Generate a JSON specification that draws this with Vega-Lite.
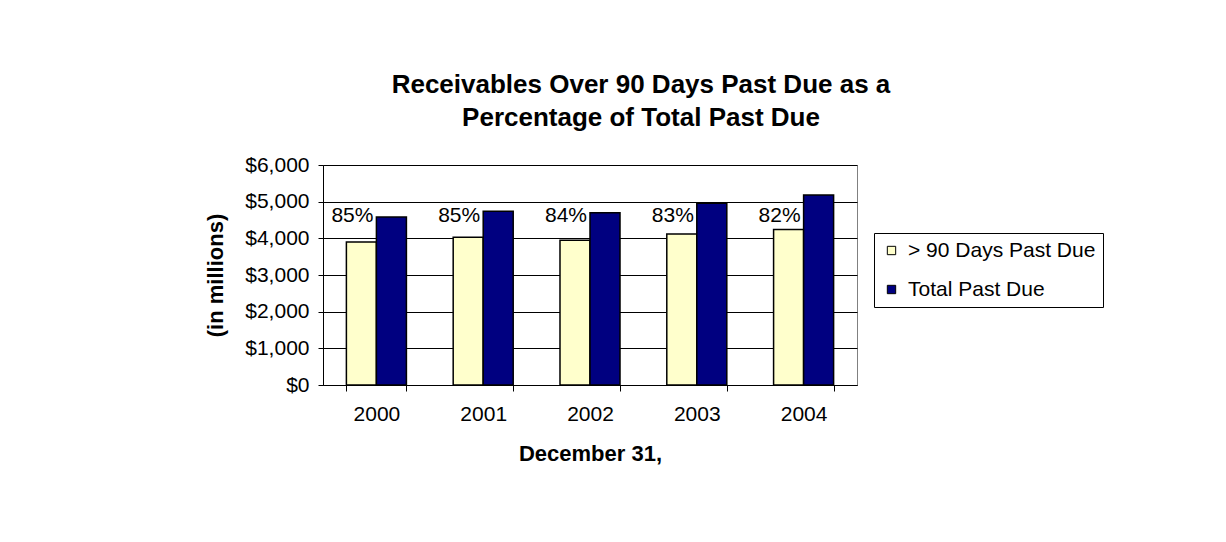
{
  "$schema": "https://vega.github.io/schema/vega-lite/v6.json",
  "width": 534,
  "height": 220,
  "padding": {"left": 204, "top": 72, "right": 10, "bottom": 10},
  "background": "white",
  "config": {
    "font": "Liberation Sans",
    "view": {"stroke": "#808080", "strokeWidth": 1},
    "axisY": {
      "title": "(in millions)",
      "titleFontSize": 22,
      "titleFontWeight": "bold",
      "titleColor": "black",
      "titlePadding": 17,
      "labelFontSize": 21,
      "labelColor": "black",
      "labelPadding": 9,
      "labelOverlap": false,
      "tickSize": 5,
      "tickColor": "black",
      "domainColor": "black",
      "grid": true,
      "gridColor": "black",
      "gridWidth": 1
    }
  },
  "title": {
    "text": ["Receivables Over 90 Days Past Due as a", "Percentage of Total Past Due"],
    "font": "Liberation Sans",
    "fontSize": 26,
    "fontWeight": "bold",
    "lineHeight": 33,
    "color": "black",
    "anchor": "middle",
    "dx": 51,
    "offset": 23
  },
  "data": {
    "values": [
      {"year": "2000", "series": "> 90 Days Past Due", "amount": 3900, "pct": "85%"},
      {"year": "2000", "series": "Total Past Due", "amount": 4580},
      {"year": "2001", "series": "> 90 Days Past Due", "amount": 4030, "pct": "85%"},
      {"year": "2001", "series": "Total Past Due", "amount": 4740},
      {"year": "2002", "series": "> 90 Days Past Due", "amount": 3950, "pct": "84%"},
      {"year": "2002", "series": "Total Past Due", "amount": 4700},
      {"year": "2003", "series": "> 90 Days Past Due", "amount": 4120, "pct": "83%"},
      {"year": "2003", "series": "Total Past Due", "amount": 4960},
      {"year": "2004", "series": "> 90 Days Past Due", "amount": 4240, "pct": "82%"},
      {"year": "2004", "series": "Total Past Due", "amount": 5180}
    ]
  },
  "encoding": {
    "x": {
      "field": "year",
      "type": "nominal",
      "scale": {"paddingInner": 0.438, "paddingOuter": 0.219},
      "axis": {
        "title": "December 31,",
        "titleFontSize": 22,
        "titleFontWeight": "bold",
        "titleColor": "black",
        "titlePadding": 19,
        "labelFontSize": 21,
        "labelColor": "black",
        "labelPadding": 12,
        "labelAngle": 0,
        "tickBand": "extent",
        "tickSize": 6,
        "tickColor": "black",
        "domainColor": "black",
        "grid": false
      }
    },
    "xOffset": {
      "field": "series",
      "type": "nominal",
      "scale": {"domain": ["> 90 Days Past Due", "Total Past Due"], "paddingInner": 0, "paddingOuter": 0}
    }
  },
  "layer": [
    {
      "mark": {"type": "bar", "stroke": "black", "strokeWidth": 1.5},
      "encoding": {
        "y": {
          "field": "amount",
          "type": "quantitative",
          "scale": {"domain": [0, 6000], "nice": false},
          "axis": {
            "title": "(in millions)",
            "values": [0, 1000, 2000, 3000, 4000, 5000, 6000],
            "format": "$,d"
          }
        },
        "color": {
          "field": "series",
          "type": "nominal",
          "scale": {"domain": ["> 90 Days Past Due", "Total Past Due"], "range": ["#FFFFCC", "#000080"]},
          "legend": {
            "title": null,
            "orient": "none",
            "legendX": 551,
            "legendY": 68,
            "strokeColor": "black",
            "fillColor": "white",
            "padding": 7,
            "labelFontSize": 21,
            "labelColor": "black",
            "labelOffset": 6,
            "labelLimit": 400,
            "symbolType": "square",
            "symbolSize": 70,
            "symbolStrokeColor": "black",
            "symbolStrokeWidth": 1,
            "symbolOpacity": 1,
            "rowPadding": 17
          }
        }
      }
    },
    {
      "transform": [{"filter": "isValid(datum.pct)"}],
      "mark": {"type": "text", "fontSize": 21, "color": "black", "align": "center", "baseline": "alphabetic", "dx": -9},
      "encoding": {
        "y": {
          "datum": 4450,
          "type": "quantitative",
          "axis": {
            "title": "(in millions)",
            "values": [0, 1000, 2000, 3000, 4000, 5000, 6000],
            "format": "$,d"
          }
        },
        "text": {"field": "pct"}
      }
    }
  ]
}
